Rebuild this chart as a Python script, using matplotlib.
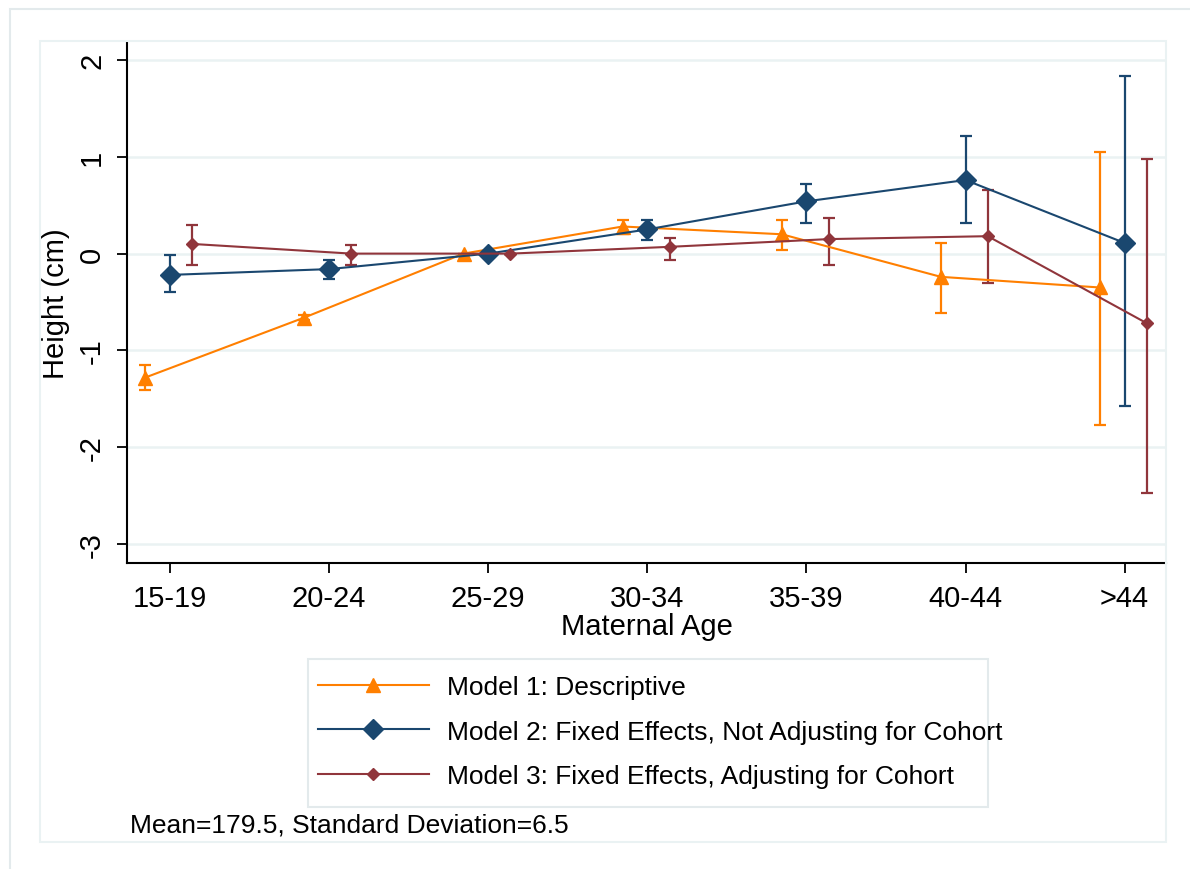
import numpy as np
import matplotlib.pyplot as plt
from matplotlib.patches import Rectangle

plt.rcParams['font.family'] = ['Liberation Sans', 'DejaVu Sans']
plt.rcParams['axes.unicode_minus'] = False

# Data: estimates and 95% CI bounds (cm) by maternal age group
age_groups = ['15-19', '20-24', '25-29', '30-34', '35-39', '40-44', '>44']

m1_est = [-1.28, -0.66, 0.0, 0.28, 0.20, -0.24, -0.35]
m1_lo = [-1.41, -0.69, 0.0, 0.20, 0.04, -0.61, -1.77]
m1_hi = [-1.15, -0.63, 0.0, 0.35, 0.35, 0.11, 1.05]

m2_est = [-0.22, -0.16, 0.0, 0.25, 0.54, 0.76, 0.11]
m2_lo = [-0.40, -0.26, 0.0, 0.14, 0.32, 0.32, -1.57]
m2_hi = [-0.01, -0.07, 0.0, 0.35, 0.72, 1.21, 1.83]

m3_est = [0.10, 0.0, 0.0, 0.07, 0.15, 0.18, -0.72]
m3_lo = [-0.12, -0.12, 0.0, -0.07, -0.12, -0.30, -2.47]
m3_hi = [0.30, 0.09, 0.0, 0.16, 0.37, 0.66, 0.98]

labels = ['Model 1: Descriptive',
          'Model 2: Fixed Effects, Not Adjusting for Cohort',
          'Model 3: Fixed Effects, Adjusting for Cohort']

ORANGE = '#FF7F00'
NAVY = '#1A476F'
MAROON = '#90353B'
GRID = '#EAF2F3'

fig = plt.figure(figsize=(11.9, 8.7), dpi=100)

# light frames around the graph region
fig.patches.append(Rectangle((10/1190, -0.1), 1.2, 1.1 - 10/870, transform=fig.transFigure,
                             fill=False, edgecolor='#E3EAEC', lw=1.5))
fig.patches.append(Rectangle((40/1190, 1 - 843/870), (1166 - 40)/1190, (843 - 42)/870,
                             transform=fig.transFigure, fill=False, edgecolor=GRID, lw=1.5))

ax = fig.add_axes([127/1190, 1 - 564/870, (1166 - 127)/1190, (564 - 43)/870])

x = np.arange(1, len(age_groups) + 1)
series = [
    (m1_est, m1_lo, m1_hi, -0.155, ORANGE, '^', 9.5),
    (m2_est, m2_lo, m2_hi, 0.0, NAVY, 'D', 10.5),
    (m3_est, m3_lo, m3_hi, 0.14, MAROON, 'D', 6.5),
]

handles = []
for (est, lo, hi, off, col, mk, ms), lab in zip(series, labels):
    est = np.array(est)
    yerr = [est - np.array(lo), np.array(hi) - est]
    ax.errorbar(x + off, est, yerr=yerr, fmt='none', ecolor=col,
                elinewidth=1.6, capsize=4.5, capthick=1.6, zorder=3)
    h, = ax.plot(x + off, est, color=col, lw=1.5, marker=mk, ms=ms,
                 markeredgecolor=col, label=lab, zorder=4)
    handles.append(h)

ax.set_xlim(0.73, 7.26)
ax.set_ylim(-3.196, 2.186)
ax.set_xticks(x)
ax.set_xticklabels(age_groups)
ax.set_yticks([-3, -2, -1, 0, 1, 2])

ax.yaxis.grid(True, color=GRID, lw=1.8)
ax.set_axisbelow(True)

for s in ['top', 'right']:
    ax.spines[s].set_visible(False)
for s in ['left', 'bottom']:
    ax.spines[s].set_linewidth(1.5)

ax.tick_params(axis='both', direction='out', length=7, width=1.3, labelsize=21, pad=8)
ax.tick_params(axis='y', labelrotation=90)
for t in ax.get_yticklabels():
    t.set_va('center')

ax.set_xlabel('Maternal Age', fontsize=21, labelpad=0)
ax.set_ylabel('Height (cm)', fontsize=21, labelpad=6)

# legend with its own light box
fig.patches.append(Rectangle((308/1190, 1 - 808/870), 680/1190, 148/870,
                             transform=fig.transFigure, fill=False, edgecolor='#E3EAEC', lw=1.5))
fig.legend(handles, labels, loc='upper left', bbox_to_anchor=(318/1190, 1 - 676/870),
           frameon=False, fontsize=19, handlelength=4.2, handletextpad=0.7,
           labelspacing=0.78, borderpad=0, borderaxespad=0)

fig.text(130/1190, 1 - 826/870, 'Mean=179.5, Standard Deviation=6.5', fontsize=19, va='center')

fig.savefig('out.png', dpi=100)
